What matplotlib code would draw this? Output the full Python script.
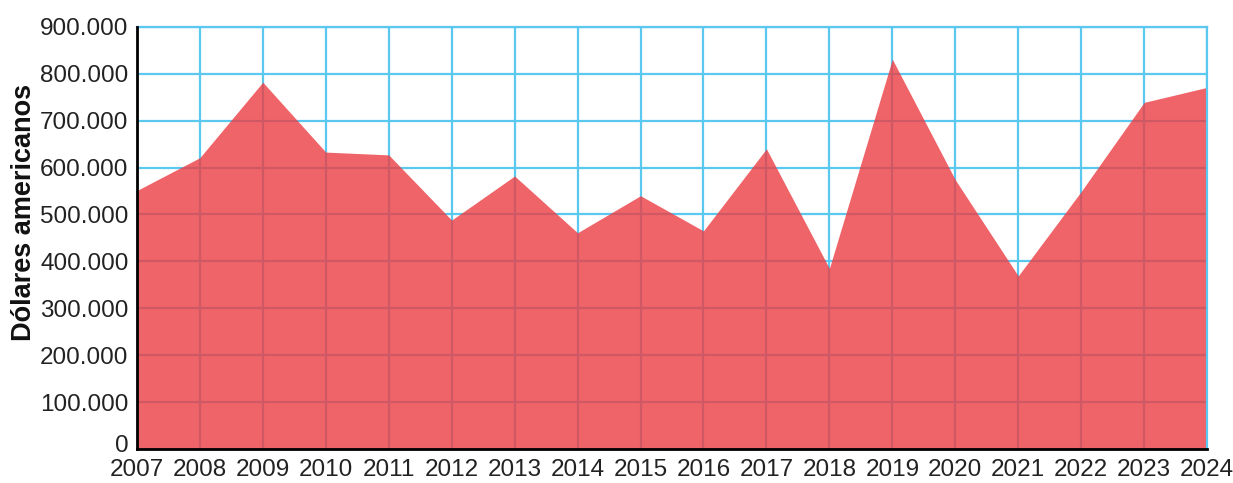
import matplotlib
matplotlib.use("Agg")
import matplotlib.pyplot as plt
import matplotlib.transforms as mtransforms
from matplotlib.ticker import FuncFormatter

plt.rcParams['font.family'] = ['Liberation Sans', 'DejaVu Sans']

years = [2007, 2008, 2009, 2010, 2011, 2012, 2013, 2014, 2015,
         2016, 2017, 2018, 2019, 2020, 2021, 2022, 2023, 2024]
valores = [551000, 621000, 782000, 633000, 627000, 488000, 582000, 461000, 540000,
           465000, 640000, 385000, 831000, 574000, 369000, 549000, 739000, 771000]
yticks = list(range(0, 900001, 100000))

fig = plt.figure(figsize=(12.33, 4.83), dpi=100)
ax = fig.add_axes([0.111, 0.0704, 0.868, 0.874])

ax.set_axisbelow(True)
ax.grid(True, color='#5bc8f0', linewidth=1.6)
ax.fill_between(years, valores, 0, color='#ec3d42', alpha=0.8, linewidth=0, zorder=2)

ax.set_xlim(2007, 2024)
ax.set_ylim(0, 900000)
ax.set_xticks(years)
ax.set_yticks(yticks)
ax.yaxis.set_major_formatter(FuncFormatter(lambda v, p: f"{int(v):,}".replace(",", ".")))
ax.tick_params(length=0, labelsize=17.5, labelcolor='#222222')
ax.tick_params(axis='x', pad=7)
ax.tick_params(axis='y', pad=6)

# nudge the "0" label up a bit so it doesn't sit on top of "2007"
lbl0 = ax.get_yticklabels()[0]
lbl0.set_transform(lbl0.get_transform() + mtransforms.ScaledTranslation(0, 4 / 72, fig.dpi_scale_trans))

for s in ['top', 'right']:
    ax.spines[s].set_color('#5bc8f0')
    ax.spines[s].set_linewidth(1.6)
for s in ['left', 'bottom']:
    ax.spines[s].set_color('black')
    ax.spines[s].set_linewidth(2)
    ax.spines[s].set_zorder(3)

ax.set_ylabel('Dólares americanos', fontsize=19.5, fontweight='bold', color='#111111')
ax.yaxis.set_label_coords(-0.093, 0.56)

fig.savefig('out.png', dpi=100)
